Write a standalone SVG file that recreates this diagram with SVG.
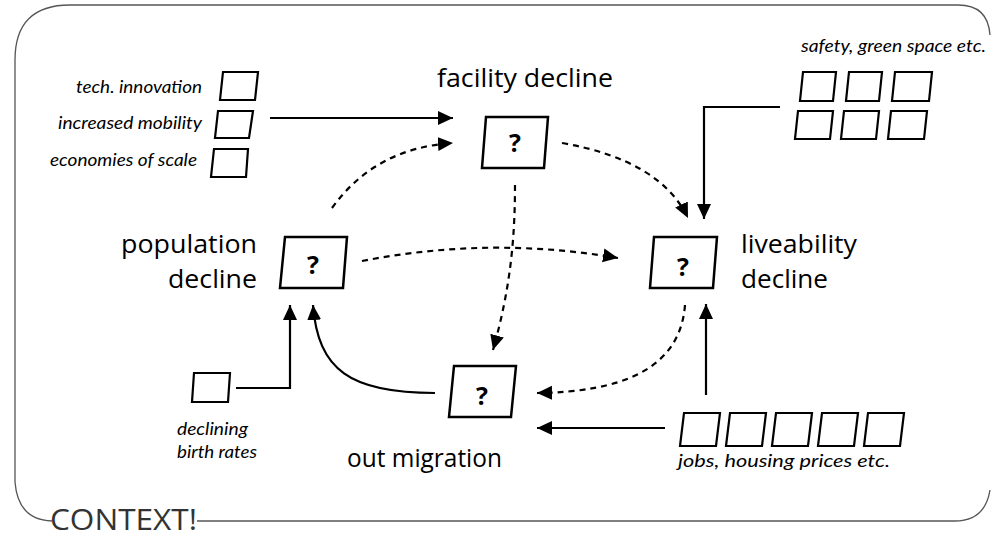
<svg xmlns="http://www.w3.org/2000/svg" width="994" height="539" viewBox="0 0 994 539">
<style>
.frame{fill:none;stroke:#555;stroke-width:1.3}
.box{fill:#fff;stroke:#000;stroke-width:2.5;stroke-linejoin:miter}
.sbox{fill:#fff;stroke:#000;stroke-width:2.2}
.title{font-family:"Open Sans","Liberation Sans",sans-serif;font-size:25px;fill:#000}
.q{font-family:"Open Sans","Liberation Sans",sans-serif;font-size:25px;font-weight:bold;fill:#000;text-anchor:middle}
.it{font-family:Lato,"Open Sans",sans-serif;font-size:17px;font-style:italic;fill:#000}
.ctx{font-family:"Open Sans","Liberation Sans",sans-serif;font-size:30px;fill:#333}
.solid{fill:none;stroke:#000;stroke-width:2.2;marker-end:url(#ah)}
.dash{fill:none;stroke:#000;stroke-width:2.2;stroke-dasharray:6 5;marker-end:url(#ah)}
</style>
<defs>
<marker id="ah" markerUnits="userSpaceOnUse" markerWidth="16" markerHeight="16" viewBox="0 0 16 16" refX="15" refY="8" orient="auto">
<path d="M0,1 L15,8 L0,15 Z" fill="#000"/>
</marker>
</defs>
<g id="frame">
<path class="frame" d="M15,482 L15,60 Q15,5 70,5 L958,5 Q988,5 990,35"/>
<path class="frame" d="M990,490 Q985,521 955,521 L197,521"/>
<path class="frame" d="M15,482 Q18,520 52,521"/>
<text class="ctx" x="50" y="530" textLength="147" lengthAdjust="spacingAndGlyphs">CONTEXT!</text>
</g>
<g id="connectors">
<path class="solid" d="M270,118 L453,118"/>
<path class="dash" d="M332,208 Q375,148 453,143"/>
<path class="dash" d="M562,143 Q660,160 688,218"/>
<path class="dash" d="M515,185 C515,240 510,290 493,350"/>
<path class="dash" d="M362,261 Q490,236 618,258"/>
<path class="dash" d="M685,305 C680,370 620,392 537,393"/>
<path class="solid" d="M780,107 L704,107 L704,219"/>
<path class="solid" d="M706,395 L706,304"/>
<path class="solid" d="M665,428 L537,428"/>
<path class="solid" d="M435,393 C350,393 318,370 313,305"/>
<path class="solid" d="M236,388 L290,388 L290,305"/>
</g>
<g id="facility-decline">
<polygon class="box" points="486,117 548,117 544,168 482,168"/>
<text class="q" x="515" y="152">?</text>
<text class="title" x="437" y="87" textLength="176" lengthAdjust="spacingAndGlyphs">facility decline</text>
</g>
<g id="population-decline">
<polygon class="box" points="285,237 347,237 343,288 280,288"/>
<text class="q" x="313" y="274">?</text>
<text class="title" x="257" y="253" text-anchor="end" textLength="136" lengthAdjust="spacingAndGlyphs">population</text>
<text class="title" x="257" y="288" text-anchor="end" textLength="89" lengthAdjust="spacingAndGlyphs">decline</text>
</g>
<g id="liveability-decline">
<polygon class="box" points="654,237 717,237 713,288 650,288"/>
<text class="q" x="683" y="276">?</text>
<text class="title" x="741" y="253" textLength="116" lengthAdjust="spacingAndGlyphs">liveability</text>
<text class="title" x="741" y="288" textLength="87" lengthAdjust="spacingAndGlyphs">decline</text>
</g>
<g id="out-migration">
<polygon class="box" points="454,366 516,366 511,417 449,417"/>
<text class="q" x="482" y="405">?</text>
<text class="title" x="347" y="467" textLength="155" lengthAdjust="spacingAndGlyphs">out migration</text>
</g>
<g id="facility-factors">
<polygon class="sbox" points="223,72 258,72 255,100 220,100"/>
<polygon class="sbox" points="218,111 253,111 249,138 215,138"/>
<polygon class="sbox" points="214,149 248,149 246,177 211,177"/>
<text class="it" x="202" y="93" text-anchor="end" textLength="126" lengthAdjust="spacingAndGlyphs">tech. innovation</text>
<text class="it" x="202" y="129" text-anchor="end" textLength="144" lengthAdjust="spacingAndGlyphs">increased mobility</text>
<text class="it" x="197" y="166" text-anchor="end" textLength="147" lengthAdjust="spacingAndGlyphs">economies of scale</text>
</g>
<g id="liveability-factors">
<text class="it" x="801" y="52" textLength="185" lengthAdjust="spacingAndGlyphs">safety, green space etc.</text>
<polygon class="sbox" points="803,72 836,72 833,101 800,101"/>
<polygon class="sbox" points="849,72 882,72 879,101 846,101"/>
<polygon class="sbox" points="895,72 932,72 929,101 892,101"/>
<polygon class="sbox" points="798,111 833,111 830,139 795,139"/>
<polygon class="sbox" points="844,111 879,111 876,139 841,139"/>
<polygon class="sbox" points="891,111 927,111 924,139 888,139"/>
</g>
<g id="birth-rates">
<polygon class="sbox" points="194,373 230,373 228,402 192,402"/>
<text class="it" x="177" y="435" textLength="71" lengthAdjust="spacingAndGlyphs">declining</text>
<text class="it" x="177" y="458" textLength="80" lengthAdjust="spacingAndGlyphs">birth rates</text>
</g>
<g id="migration-factors">
<polygon class="sbox" points="684,413 720,413 716,446 680,446"/>
<polygon class="sbox" points="730,413 766,413 762,446 726,446"/>
<polygon class="sbox" points="776,413 812,413 808,446 772,446"/>
<polygon class="sbox" points="822,413 858,413 854,446 818,446"/>
<polygon class="sbox" points="868,413 904,413 900,446 864,446"/>
<text class="it" x="678" y="467" textLength="212" lengthAdjust="spacingAndGlyphs">jobs, housing prices etc.</text>
</g>
</svg>
